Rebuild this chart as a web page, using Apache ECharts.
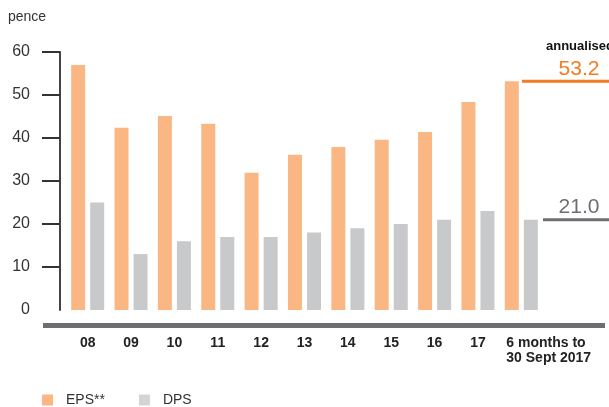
<!DOCTYPE html>
<html>
<head>
<meta charset="utf-8">
<script src="https://cdn.jsdelivr.net/npm/echarts@6/dist/echarts.min.js"></script>
<style>
  html, body { margin: 0; padding: 0; background: #fff; }
  #chart { width: 609px; height: 407px; }
</style>
</head>
<body>
<div id="chart"></div>
<script>
const categories = ['08', '09', '10', '11', '12', '13', '14', '15', '16', '17', '6 months to\n30 Sept 2017']
const eps = [57.0, 42.4, 45.1, 43.3, 31.9, 36.1, 37.9, 39.6, 41.4, 48.4, 53.2]
const dps = [25.0, 13.0, 16.0, 17.0, 17.0, 18.0, 19.0, 20.0, 21.0, 23.0, 21.0]
const yTicks = [0, 10, 20, 30, 40, 50, 60]
const annualisedEps = 53.2
const annualisedDps = 21.0

const font = '"Liberation Sans", Arial, sans-serif'
const orange = '#f47b20'
const barOrange = '#fab784'
const barGrey = '#c8c9cb'
const darkGrey = '#6d6e71'

const chart = echarts.init(document.getElementById('chart'))

// helper grids for the annualised lines on the right
const sideGrid = (left) => ({ left: left, right: 0, top: 52, bottom: 97 })

chart.setOption({
  animation: false,
  textStyle: { fontFamily: font },
  title: {
    text: 'pence',
    left: 8,
    top: 10,
    padding: 0,
    textStyle: { fontSize: 14, fontWeight: 'normal', color: '#333', fontFamily: font }
  },
  legend: {
    left: 42,
    top: 393,
    padding: 0,
    itemWidth: 11,
    itemHeight: 11,
    itemGap: 34,
    icon: 'rect',
    textStyle: { fontSize: 14, color: '#333', padding: [0, 0, 0, 8] },
    data: [
      { name: 'EPS**', itemStyle: { color: barOrange } },
      { name: 'DPS', itemStyle: { color: '#d4d4d4' } }
    ]
  },
  grid: [
    { left: 66, right: 66, top: 52, bottom: 97 },
    sideGrid(522),
    sideGrid(543)
  ],
  xAxis: [
    {
      type: 'category',
      data: categories,
      axisLine: { show: false },
      axisTick: { show: false },
      axisLabel: {
        interval: 0,
        margin: 26,
        fontSize: 14,
        fontWeight: 'bold',
        color: '#222',
        lineHeight: 15,
        formatter: (v) => v.indexOf('\n') > -1
          ? v.split('\n').map(s => '{l|' + s + '}').join('\n')
          : v,
        rich: { l: { width: 30, align: 'left', fontSize: 14, fontWeight: 'bold', color: '#222', lineHeight: 15 } }
      }
    },
    { gridIndex: 1, type: 'category', data: ['a', 'b'], boundaryGap: false, show: false },
    { gridIndex: 2, type: 'category', data: ['a', 'b'], boundaryGap: false, show: false }
  ],
  yAxis: [
    {
      type: 'value',
      min: 0,
      max: 60,
      interval: 10,
      offset: 6,
      axisLine: { show: true, lineStyle: { color: '#444', width: 2 } },
      axisTick: {
        show: true,
        length: 18,
        lineStyle: { color: '#333', width: 2 },
        customValues: yTicks.filter(v => v > 0)
      },
      axisLabel: { margin: 30, fontSize: 16, color: '#333', customValues: yTicks },
      splitLine: { show: false }
    },
    { gridIndex: 1, type: 'value', min: 0, max: 60, show: false },
    { gridIndex: 2, type: 'value', min: 0, max: 60, show: false }
  ],
  graphic: [
    {
      type: 'rect',
      left: 43,
      top: 323,
      shape: { width: 562, height: 5 },
      style: { fill: darkGrey }
    },
    {
      type: 'text',
      left: 546,
      top: 40,
      style: { text: 'annualised', font: 'bold 13px ' + font, fill: '#111' }
    }
  ],
  series: [
    {
      name: 'EPS**',
      type: 'bar',
      data: eps,
      barWidth: 14,
      barGap: '36%',
      itemStyle: { color: barOrange }
    },
    {
      name: 'DPS',
      type: 'bar',
      data: dps,
      barWidth: 14,
      itemStyle: { color: barGrey }
    },
    {
      type: 'line',
      xAxisIndex: 1,
      yAxisIndex: 1,
      data: [annualisedEps, { value: annualisedEps, label: { show: true } }],
      symbol: 'circle',
      symbolSize: 0,
      lineStyle: { color: orange, width: 3, cap: 'butt' },
      label: {
        show: false,
        position: 'top',
        distance: 2,
        offset: [-30, 0],
        fontSize: 21,
        color: orange,
        formatter: (p) => p.value.toFixed(1)
      },
      silent: true
    },
    {
      type: 'line',
      xAxisIndex: 2,
      yAxisIndex: 2,
      data: [annualisedDps, { value: annualisedDps, label: { show: true } }],
      symbol: 'circle',
      symbolSize: 0,
      lineStyle: { color: darkGrey, width: 3, cap: 'butt' },
      label: {
        show: false,
        position: 'top',
        distance: 2,
        offset: [-30, 0],
        fontSize: 21,
        color: darkGrey,
        formatter: (p) => p.value.toFixed(1)
      },
      silent: true
    }
  ]
})
</script>
</body>
</html>
